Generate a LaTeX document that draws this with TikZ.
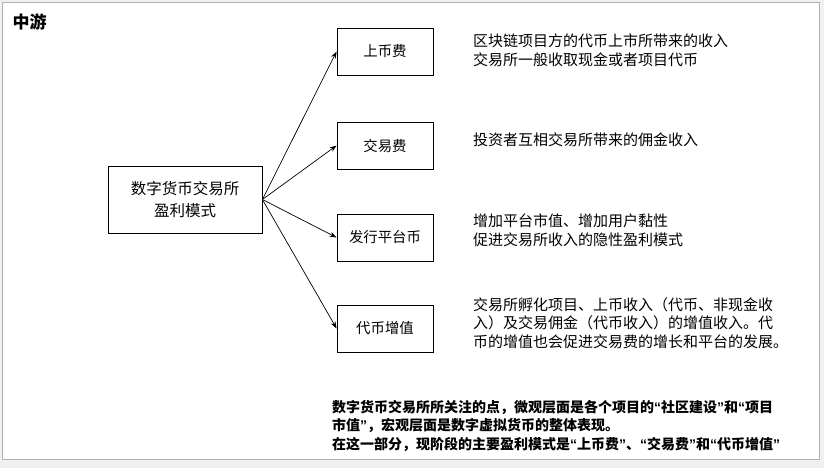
\documentclass[tikz,border=0pt]{standalone}
\usepackage{fontspec}
\setmainfont{Noto Sans CJK SC}
\newfontfamily\qf{Liberation Sans}
\newcommand{\myLq}{{\qf\symbol{"201C}}}
\newcommand{\myRq}{{\qf\symbol{"201D}}}
\usetikzlibrary{arrows.meta}
\begin{document}
\begin{tikzpicture}[x=1pt,y=-1pt,
  box/.style={draw,line width=0.8pt,minimum width=96pt,minimum height=47pt,font=\fontsize{14.4}{16}\selectfont,inner sep=0pt},
  desc/.style={anchor=north west,align=left,font=\fontsize{15}{18.5}\selectfont,inner sep=0pt},
  arr/.style={-{Stealth[length=7pt,width=5pt]},line width=0.7pt}]
\fill[gray!12] (0,0) rectangle (824,468);
\fill[white,draw=gray!60] (2,2) rectangle (819,459);
\node[anchor=west,font=\fontsize{17}{18}\selectfont\bfseries] (title) at (9,22) {中游};
\node[box,minimum width=154pt,minimum height=67pt,align=center,font=\fontsize{15.5}{22}\selectfont] (c) at (185,199.5) {数字货币交易所\\盈利模式};
\node[box] (a1) at (385,51.5) {上币费};
\node[box] (a2) at (385,145.5) {交易费};
\node[box] (a3) at (385,237.5) {发行平台币};
\node[box] (a4) at (385,328.5) {代币增值};
\foreach \i in {1,...,4} \draw[arr] (c.east) -- (a\i.west);
\node[desc] (d1) at (473,34) {区块链项目方的代币上市所带来的收入\\交易所一般收取现金或者项目代币};
\node[desc] (d2) at (473,133) {投资者互相交易所带来的佣金收入};
\node[desc] (d3) at (473,214) {增加平台市值、增加用户黏性\\促进交易所收入的隐性盈利模式};
\node[desc] (d4) at (473,297) {交易所孵化项目、上币收入（代币、非现金收\\入）及交易佣金（代币收入）的增值收入。代\\币的增值也会促进交易费的增长和平台的发展。};
\node[desc,font=\fontsize{14}{18.5}\selectfont\bfseries] (n) at (332,400) {数字货币交易所所关注的点，微观层面是各个项目的\myLq 社区建设\myRq 和\myLq 项目\\市值\myRq ，宏观层面是数字虚拟货币的整体表现。\\在这一部分，现阶段的主要盈利模式是\myLq 上币费\myRq 、\myLq 交易费\myRq 和\myLq 代币增值\myRq};
\end{tikzpicture}
\end{document}
